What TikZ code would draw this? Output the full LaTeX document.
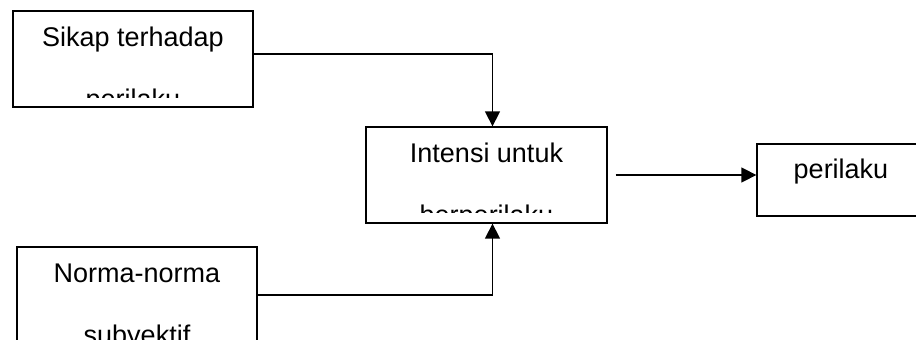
\documentclass[tikz,border=0pt]{standalone}
\usepackage{fontspec}
\setmainfont{Liberation Sans}
\usetikzlibrary{arrows.meta, positioning}

\begin{document}
\begin{tikzpicture}[
        x=1pt, y=-1pt,
        box/.style={draw, line width=1.3pt, inner sep=0pt, minimum width=240pt, minimum height=96pt},
        txt/.style={font=\fontsize{27pt}{62pt}\selectfont, align=center, anchor=base, inner sep=0pt},
        arrow/.style={-{Triangle[length=15pt, width=15pt]}, line width=1.4pt}
    ]
    \useasboundingbox (0,0) rectangle (916,340);
    \node[box] (sikap) at (133,59) {};
    \node[box, minimum width=241pt] (intensi) at (486.5,175) {};
    \node[box, minimum width=168pt, minimum height=72pt] (perilaku) at (841,180) {};
    \node[box] (norma) at (137,295) {};
    % text overflows the boxes and is cut off (base = last line)
    \begin{scope}
        \clip (sikap.north west) rectangle ([yshift=10pt]sikap.south east);
        \node[txt] (sikaptxt) at ([yshift=-98pt]sikap.north) {Sikap terhadap\\perilaku};
    \end{scope}
    \begin{scope}
        \clip (intensi.north west) rectangle ([yshift=11pt]intensi.south east);
        \node[txt] (intensitxt) at ([yshift=-98pt]intensi.north) {Intensi untuk\\berperilaku};
    \end{scope}
    \node[txt] (perilakutxt) at ([yshift=-35pt]perilaku.north) {perilaku};
    \begin{scope}
        \clip (norma.north west) rectangle (norma.south east);
        \node[txt] (normatxt) at ([yshift=-98pt]norma.north) {Norma-norma\\subyektif};
    \end{scope}
    \draw[arrow] ([yshift=5pt]sikap.east) -| ([xshift=6pt]intensi.north);
    \draw[arrow] (norma.east) -| ([xshift=6pt]intensi.south);
    \draw[arrow] ([xshift=8pt]intensi.east) -- (intensi.east -| perilaku.west);
\end{tikzpicture}
\end{document}
